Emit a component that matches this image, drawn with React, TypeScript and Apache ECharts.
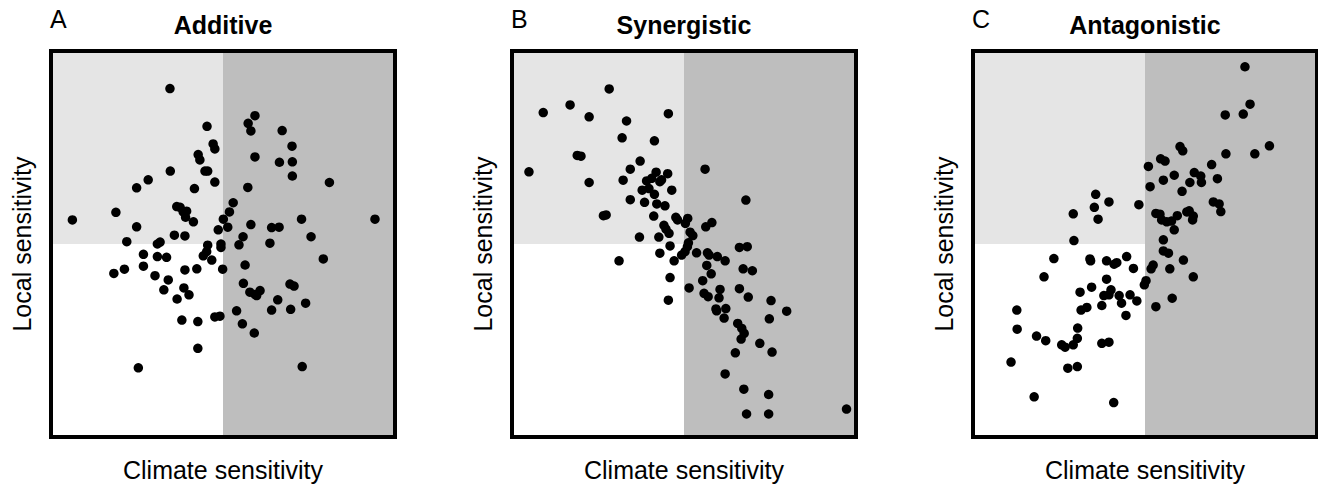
import React, { useEffect, useRef } from "react";
import * as echarts from "echarts";

// Scales: both axes run 0..100 with the quadrant split at 50.
const panelTitles = ["Additive", "Synergistic", "Antagonistic"];
const panelLetters = ["A", "B", "C"];
const xAxisTitle = "Climate sensitivity";
const yAxisTitle = "Local sensitivity";
const axisMin = 0;
const axisMax = 100;
const split = 50;

const additive: [number, number][] = [
  [34.4, 90.7], [59.4, 83.6], [57.4, 81.6], [58.2, 79.6], [45.3, 80.8], [67.4, 79.7],
  [47.1, 76.2], [47.6, 74.9], [70.3, 75.6], [42.7, 73.4], [43.2, 72.0], [59.4, 72.8],
  [66.6, 71.4], [70.4, 71.5], [70.4, 67.8], [34.5, 69.1], [44.7, 69.1], [45.5, 69.1],
  [28.0, 66.8], [24.6, 64.7], [41.6, 64.5], [47.6, 66.2], [57.3, 64.8], [81.3, 66.1],
  [53.0, 60.8], [51.9, 58.4], [36.4, 59.8], [37.4, 59.6], [38.3, 58.4], [39.3, 58.6],
  [39.0, 57.0], [41.3, 55.8], [18.5, 58.3], [5.7, 56.3], [24.6, 54.5], [50.1, 56.5],
  [51.4, 54.4], [48.6, 53.7], [58.2, 55.1], [64.3, 54.3], [66.5, 54.4], [73.1, 56.5],
  [94.7, 56.5], [75.9, 51.9], [35.7, 52.3], [38.8, 52.1], [21.7, 50.6], [30.7, 50.0],
  [31.5, 50.5], [55.9, 51.9], [45.5, 49.7], [49.4, 50.0], [49.4, 49.1], [54.7, 49.8],
  [63.8, 50.2], [26.6, 47.3], [30.7, 46.7], [33.4, 46.5], [44.2, 46.9], [45.2, 48.0],
  [46.7, 45.8], [79.5, 46.1], [21.0, 43.4], [17.9, 42.3], [26.6, 44.2], [38.8, 43.2],
  [42.3, 43.5], [49.9, 43.4], [56.5, 44.5], [30.0, 41.7], [33.9, 40.6], [32.6, 38.0],
  [38.5, 38.5], [40.0, 36.7], [36.5, 35.6], [56.0, 39.7], [57.9, 37.4], [59.4, 36.8],
  [60.9, 37.8], [59.9, 36.5], [69.7, 39.5], [70.9, 39.0], [66.1, 35.4], [74.3, 34.5],
  [64.3, 32.7], [69.9, 32.9], [54.0, 32.5], [47.6, 30.9], [49.1, 31.1], [37.9, 30.1],
  [42.6, 29.7], [55.7, 29.1], [59.2, 26.7], [42.6, 22.7], [25.1, 17.6], [73.3, 17.9],
];

const synergistic: [number, number][] = [
  [28.0, 90.6], [8.6, 84.4], [16.5, 86.4], [22.1, 83.3], [33.1, 82.2], [45.4, 84.1],
  [31.8, 77.8], [41.3, 77.0], [18.6, 73.2], [19.7, 73.0], [4.4, 68.9], [37.1, 71.7],
  [34.2, 69.6], [22.1, 66.1], [32.1, 66.7], [41.8, 68.8], [45.2, 68.4], [56.2, 69.6],
  [39.0, 66.5], [40.5, 67.2], [42.9, 66.3], [43.4, 66.8], [37.7, 64.1], [39.7, 64.5],
  [41.3, 63.0], [46.4, 64.1], [34.2, 61.6], [38.4, 60.9], [42.0, 60.5], [44.4, 60.0],
  [68.2, 61.5], [26.3, 57.4], [27.1, 57.6], [41.1, 57.3], [47.6, 57.0], [48.1, 56.3],
  [51.1, 56.7], [50.4, 55.4], [56.4, 54.5], [58.2, 55.6], [44.1, 54.9], [44.7, 53.9],
  [45.6, 52.8], [51.8, 53.1], [52.6, 52.2], [36.9, 51.8], [42.6, 51.8], [45.9, 49.5],
  [51.3, 50.3], [51.0, 49.3], [66.3, 49.1], [68.6, 49.3], [30.9, 45.6], [42.9, 47.6],
  [47.1, 45.6], [49.3, 47.1], [50.3, 48.0], [53.7, 47.7], [56.9, 47.7], [57.4, 47.1],
  [59.8, 46.7], [62.1, 45.6], [56.7, 44.4], [67.4, 43.5], [70.1, 43.0], [58.0, 42.2],
  [45.9, 41.2], [55.5, 40.4], [51.5, 38.5], [60.6, 38.1], [66.3, 38.3], [55.9, 37.1],
  [57.1, 36.2], [60.3, 35.9], [68.9, 36.1], [45.4, 35.3], [75.6, 35.2], [59.4, 33.0],
  [62.3, 33.1], [59.6, 32.5], [80.2, 32.4], [61.8, 30.6], [75.1, 30.4], [65.8, 29.2],
  [67.0, 27.9], [67.7, 26.6], [66.8, 25.1], [72.3, 24.0], [65.1, 21.5], [75.9, 21.7],
  [62.1, 16.0], [67.6, 12.0], [74.9, 10.6], [68.4, 5.5], [74.9, 5.5], [97.8, 6.8],
];

const antagonistic: [number, number][] = [
  [79.4, 96.4], [80.9, 86.6], [78.9, 84.0], [73.6, 83.8], [86.6, 75.7], [82.3, 73.6],
  [73.8, 73.6], [60.3, 75.5], [61.1, 74.4], [54.6, 72.3], [55.9, 71.7], [51.0, 70.3],
  [69.6, 70.8], [64.5, 68.7], [58.6, 68.0], [55.4, 66.7], [66.4, 67.8], [66.6, 66.1],
  [71.3, 67.1], [63.2, 66.1], [51.5, 65.0], [60.9, 63.8], [35.5, 63.0], [35.1, 59.6],
  [39.4, 61.0], [36.2, 56.5], [28.9, 57.9], [48.2, 60.3], [70.1, 61.0], [71.8, 60.5],
  [72.3, 58.5], [53.2, 58.0], [54.4, 57.8], [54.9, 56.3], [56.4, 55.8], [57.8, 56.0],
  [59.5, 57.4], [62.3, 58.4], [63.0, 58.7], [64.0, 56.3], [64.2, 57.3], [58.6, 53.7],
  [29.1, 50.9], [55.4, 51.1], [55.4, 48.2], [56.9, 47.6], [23.2, 46.2], [33.8, 46.1],
  [34.0, 45.6], [38.7, 45.6], [40.9, 44.7], [41.7, 45.1], [44.6, 46.7], [46.6, 43.6],
  [52.4, 44.5], [51.8, 43.5], [57.3, 43.5], [61.3, 45.8], [64.2, 41.4], [20.3, 41.4],
  [38.7, 40.8], [34.3, 38.7], [30.9, 37.4], [40.0, 38.0], [37.9, 36.5], [39.4, 36.7],
  [42.4, 36.5], [45.6, 36.7], [47.6, 35.1], [43.1, 34.5], [50.3, 40.4], [49.8, 39.3],
  [58.0, 35.8], [53.2, 33.6], [37.3, 33.9], [32.9, 33.4], [31.2, 32.7], [44.4, 31.3],
  [12.3, 32.7], [12.4, 27.7], [30.2, 28.0], [18.1, 25.9], [20.8, 24.7], [30.1, 25.3],
  [28.9, 23.6], [25.5, 23.6], [26.5, 23.0], [37.3, 24.0], [39.4, 24.3], [10.6, 19.1],
  [27.3, 17.5], [30.1, 17.9], [17.4, 10.0], [40.8, 8.5],
];

const panelData = [additive, synergistic, antagonistic];

const LIGHT = "#e5e5e5";
const DARK = "#bebebe";
const FONT = "'Liberation Sans', Arial, Helvetica, sans-serif";
const FS = 25;

export default function App() {
  const ref = useRef<HTMLDivElement>(null);
  useEffect(() => {
    document.body.style.margin = "0";
    if (!ref.current) return;
    const chart = echarts.init(ref.current, undefined, { renderer: "svg" });

    const lefts = [53, 514, 975];
    const top = 53;
    const w = 340;
    const h = 382;

    const grids = lefts.map((l) => ({ left: l, top, width: w, height: h, show: false }));
    const xAxes = lefts.map((_, i) => ({
      type: "value", gridIndex: i, min: axisMin, max: axisMax, show: false,
    }));
    const yAxes = lefts.map((_, i) => ({
      type: "value", gridIndex: i, min: axisMin, max: axisMax, show: false,
    }));
    const series = panelData.map((pts, i) => ({
      type: "scatter",
      xAxisIndex: i,
      yAxisIndex: i,
      data: pts,
      symbol: "circle",
      symbolSize: 9.5,
      itemStyle: { color: "#000", opacity: 1 },
      silent: true,
      markArea: {
        silent: true,
        data: [
          [
            { xAxis: axisMin, yAxis: split, itemStyle: { color: LIGHT } },
            { xAxis: split, yAxis: axisMax },
          ],
          [
            { xAxis: split, yAxis: axisMin, itemStyle: { color: DARK } },
            { xAxis: axisMax, yAxis: axisMax },
          ],
        ],
      },
    }));

    const graphics: any[] = [];
    lefts.forEach((l, i) => {
      graphics.push({
        type: "rect",
        shape: { x: l - 2, y: top - 2, width: w + 4, height: h + 4 },
        style: { fill: "none", stroke: "#000", lineWidth: 4 },
        z: 100,
        silent: true,
      });
      graphics.push({
        type: "text",
        x: l + w / 2,
        y: 25,
        style: {
          text: panelTitles[i], fill: "#000", font: `bold ${FS}px ${FONT}`,
          textAlign: "center", textVerticalAlign: "middle",
        },
        z: 100,
      });
      graphics.push({
        type: "text",
        x: l - 3,
        y: 19,
        style: {
          text: panelLetters[i], fill: "#000", font: `${FS}px ${FONT}`,
          textAlign: "left", textVerticalAlign: "middle",
        },
        z: 100,
      });
      graphics.push({
        type: "text",
        x: l + w / 2,
        y: 470,
        style: {
          text: xAxisTitle, fill: "#000", font: `${FS}px ${FONT}`,
          textAlign: "center", textVerticalAlign: "middle",
        },
        z: 100,
      });
      graphics.push({
        type: "text",
        x: l - 31,
        y: top + h / 2,
        rotation: Math.PI / 2,
        style: {
          text: yAxisTitle, fill: "#000", font: `${FS}px ${FONT}`,
          textAlign: "center", textVerticalAlign: "middle",
        },
        z: 100,
      });
    });

    chart.setOption({
      animation: false,
      backgroundColor: "#fff",
      grid: grids,
      xAxis: xAxes,
      yAxis: yAxes,
      series,
      graphic: graphics,
    });
    return () => chart.dispose();
  }, []);
  return <div ref={ref} style={{ width: 1318, height: 484 }} />;
}
